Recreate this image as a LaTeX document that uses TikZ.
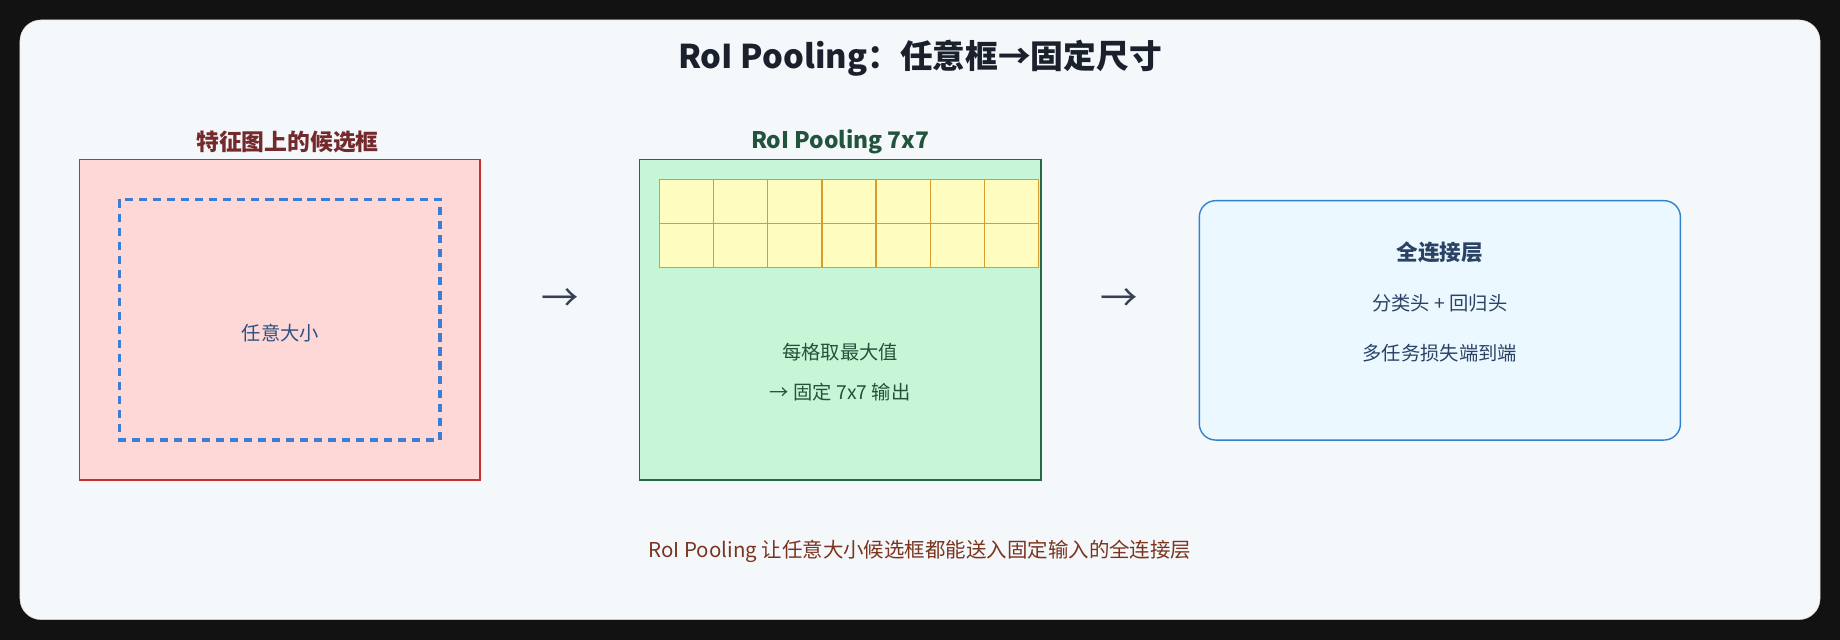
\documentclass[tikz,border=0pt]{standalone}
\usepackage{fontspec}
\setmainfont{Noto Sans CJK SC}
\begin{document}
\begin{tikzpicture}[x=1bp,y=-1bp,
  lbl/.style={font=\fontsize{16.5}{20}\selectfont, anchor=center, inner sep=0},
  head/.style={font=\fontsize{19.5}{24}\selectfont\bfseries, anchor=center, inner sep=0},
  arr/.style={font=\fontsize{32}{36}\selectfont, text=arrc, anchor=center, inner sep=0},
  cell/.style={draw=cellb, fill=cellf, line width=1pt}]
\definecolor{bgc}{HTML}{F5F8FB}
\definecolor{titc}{HTML}{1A202C}
\definecolor{arrc}{HTML}{374151}
\definecolor{redf}{HTML}{FED7D7}
\definecolor{redb}{HTML}{C53030}
\definecolor{redt}{HTML}{742A2A}
\definecolor{dash}{HTML}{3B7DD8}
\definecolor{bluet}{HTML}{2C5282}
\definecolor{grf}{HTML}{C6F6D5}
\definecolor{grb}{HTML}{276749}
\definecolor{grt}{HTML}{22543D}
\definecolor{cellf}{HTML}{FEFCBF}
\definecolor{cellb}{HTML}{D69E2E}
\definecolor{blf}{HTML}{EBF8FF}
\definecolor{blb}{HTML}{3182CE}
\definecolor{blt}{HTML}{2A4365}
\definecolor{foot}{HTML}{7B341E}
\useasboundingbox (0,0) rectangle (1568,545);
\fill[black!93] (0,0) rectangle (1568,545);
\draw[fill=bgc, draw=black!15, rounded corners=18] (17,17) rectangle (1551,528);
\node[font=\fontsize{28}{32}\selectfont\bfseries, text=titc] (title) at (784,50) {RoI Pooling：任意框→固定尺寸};
% left
\node[head, text=redt] (lh) at (245,121) {特征图上的候选框};
\draw[fill=redf, draw=redb, line width=1.2pt] (68,136) rectangle (409,409);
\draw[draw=dash, line width=3pt, dash pattern=on 7pt off 5pt] (102,170) rectangle (375,375);
\node[lbl, text=bluet] (any) at (239,284) {任意大小};
\node[arr] (a1) at (477,256) {→};
% middle
\node[head, text=grt] (mh) at (716,121) {RoI Pooling 7x7};
\draw[fill=grf, draw=grb, line width=1.2pt] (545,136) rectangle (887,409);
\foreach \i in {0,...,6} \foreach \j in {0,1}
  \draw[cell] ({562+\i*46.14},{153+\j*37.5}) rectangle ++(46.14,37.5);
\node[lbl, text=grt] (m1) at (716,300) {每格取最大值};
\node[lbl, text=grt] (m2) at (716,334) {→ 固定 7x7 输出};
\node[arr] (a2) at (954,256) {→};
% right
\draw[fill=blf, draw=blb, line width=1.2pt, rounded corners=14] (1022,171) rectangle (1432,375);
\node[head, font=\fontsize{18.5}{22}\selectfont\bfseries, text=blt] (r1) at (1227,215) {全连接层};
\node[lbl, text=blt] (r2) at (1227,258) {分类头 + 回归头};
\node[lbl, text=blt] (r3) at (1227,301) {多任务损失端到端};
\node[lbl, font=\fontsize{17.5}{21}\selectfont, text=foot] (foot) at (784,470) {RoI Pooling 让任意大小候选框都能送入固定输入的全连接层};
\end{tikzpicture}
\end{document}
